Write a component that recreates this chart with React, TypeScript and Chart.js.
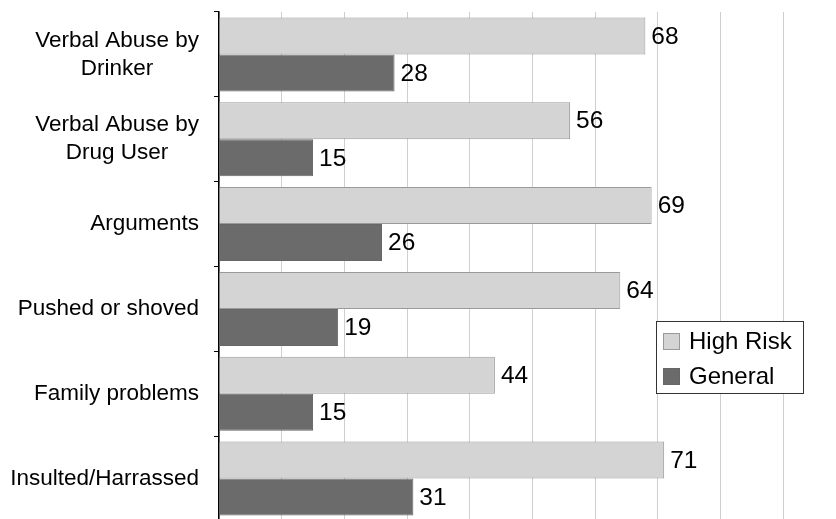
import React, { useEffect, useRef } from "react";
import { Chart, registerables } from "chart.js";

Chart.register(...registerables);

const categories: string[][] = [
  ["Verbal Abuse by", "Drinker"],
  ["Verbal Abuse by", "Drug User"],
  ["Arguments"],
  ["Pushed or shoved"],
  ["Family problems"],
  ["Insulted/Harrassed"],
];
const highRisk: number[] = [68, 56, 69, 64, 44, 71];
const general: number[] = [28, 15, 26, 19, 15, 31];
const seriesNames: string[] = ["High Risk", "General"];

const FONT = "'Liberation Sans', Arial, Helvetica, sans-serif";

const customPlugin = {
  id: "customDraw",
  afterDraw(chart: any) {
    const ctx = chart.ctx as CanvasRenderingContext2D;
    const yScale = chart.scales.y;
    const area = chart.chartArea;
    ctx.save();
    // category labels
    ctx.fillStyle = "#000";
    ctx.font = `22.5px ${FONT}`;
    ctx.textBaseline = "middle";
    ctx.textAlign = "center";
    const lineH = 28;
    const rightX = area.left - 20;
    categories.forEach((lines, i) => {
      const cy = yScale.getPixelForValue(i);
      const maxW = Math.max(...lines.map((l) => ctx.measureText(l).width));
      const cx = rightX - maxW / 2;
      const start = cy - ((lines.length - 1) * lineH) / 2;
      lines.forEach((l, j) => ctx.fillText(l, cx, start + j * lineH));
    });
    // value labels
    ctx.font = `24.5px ${FONT}`;
    ctx.textAlign = "left";
    chart.data.datasets.forEach((ds: any, di: number) => {
      const meta = chart.getDatasetMeta(di);
      meta.data.forEach((el: any, i: number) => {
        ctx.fillText(String(ds.data[i]), el.x + 6, el.y + 1);
      });
    });
    // legend
    const lx = area.left + 437;
    const ly = area.top + 309;
    const lw = 147;
    const lh = 72;
    ctx.fillStyle = "#fff";
    ctx.fillRect(lx, ly, lw, lh);
    ctx.strokeStyle = "#333";
    ctx.lineWidth = 1;
    ctx.strokeRect(lx + 0.5, ly + 0.5, lw, lh);
    ctx.font = `24px ${FONT}`;
    chart.data.datasets.forEach((ds: any, di: number) => {
      const cy = ly + 20 + di * 35;
      ctx.fillStyle = ds.backgroundColor;
      ctx.fillRect(lx + 7, cy - 8, 17, 17);
      ctx.strokeStyle = di === 0 ? "#999" : "#666";
      ctx.strokeRect(lx + 7.5, cy - 7.5, 16, 16);
      ctx.fillStyle = "#000";
      ctx.fillText(ds.label, lx + 33, cy + 1);
    });
    ctx.restore();
  },
};

export default function App() {
  const ref = useRef<HTMLCanvasElement | null>(null);
  useEffect(() => {
    if (!ref.current) return;
    const chart = new Chart(ref.current, {
      type: "bar",
      data: {
        labels: categories.map((c) => c.join(" ")),
        datasets: [
          {
            label: seriesNames[0],
            data: highRisk,
            backgroundColor: "#d4d4d4",
            borderColor: "#9a9a9a",
            borderWidth: 1,
          },
          {
            label: seriesNames[1],
            data: general,
            backgroundColor: "#6b6b6b",
            borderColor: "#666666",
            borderWidth: 1,
          },
        ],
      },
      options: {
        indexAxis: "y",
        animation: false,
        responsive: true,
        maintainAspectRatio: false,
        layout: { padding: { top: 12, right: 2, bottom: 2, left: 0 } },
        datasets: { bar: { categoryPercentage: 0.873, barPercentage: 1.0 } },
        plugins: { legend: { display: false }, tooltip: { enabled: false } },
        scales: {
          x: {
            min: 0,
            max: 100,
            ticks: { display: false, stepSize: 10 },
            grid: { color: "#cfcfcf", lineWidth: 1, drawTicks: false },
            border: { display: false },
          },
          y: {
            ticks: { display: false },
            afterFit: (scale: any) => {
              scale.width = 219;
            },
            grid: {
              offset: true,
              drawOnChartArea: false,
              drawTicks: true,
              tickLength: 5,
              color: "#000",
            },
            border: { display: true, color: "#000", width: 1.5 },
          },
        },
      },
      plugins: [customPlugin],
    });
    return () => chart.destroy();
  }, []);
  return (
    <div style={{ position: "fixed", left: 0, top: 0, width: 836, height: 519, overflow: "hidden", background: "#fff" }}>
      <div style={{ position: "absolute", left: 0, top: 0, width: 848, height: 523 }}>
        <canvas ref={ref} />
      </div>
    </div>
  );
}
